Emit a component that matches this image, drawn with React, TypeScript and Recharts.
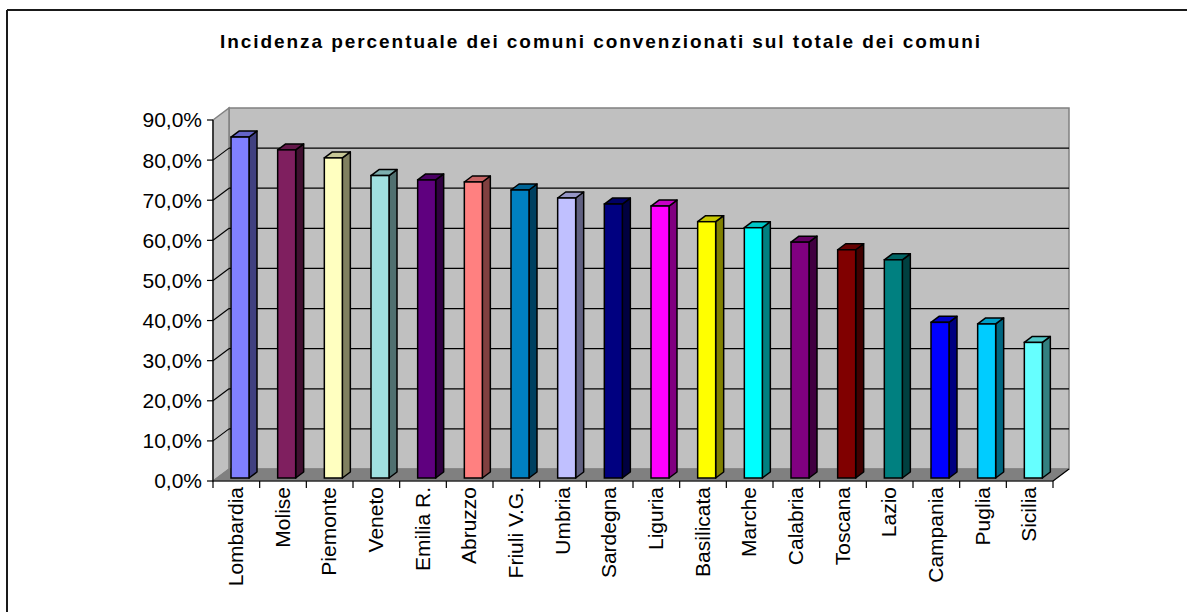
import React from 'react';
import { BarChart, Bar, XAxis, YAxis, Customized } from 'recharts';

const TITLE = 'Incidenza percentuale dei comuni convenzionati sul totale dei comuni';
const REGIONS = ['Lombardia', 'Molise', 'Piemonte', 'Veneto', 'Emilia R.', 'Abruzzo', 'Friuli V.G.', 'Umbria', 'Sardegna', 'Liguria', 'Basilicata', 'Marche', 'Calabria', 'Toscana', 'Lazio', 'Campania', 'Puglia', 'Sicilia'];
const VALUES = [85.0, 81.8, 79.8, 75.4, 74.3, 73.8, 71.8, 69.8, 68.3, 67.8, 63.9, 62.4, 58.8, 56.9, 54.4, 38.8, 38.4, 33.8];
const COLORS = ['#8080FF', '#7F1F5F', '#FFFFC0', '#A0E0E0', '#5F007F', '#FF8080', '#0080C0', '#C0C0FF', '#000080', '#FF00FF', '#FFFF00', '#00FFFF', '#800080', '#800000', '#008080', '#0000FF', '#00CCFF', '#66FFFF'];
const Y_TICKS = [0, 10, 20, 30, 40, 50, 60, 70, 80, 90];
const Y_MAX = 90;

const data = REGIONS.map((name, i) => ({ name, v: VALUES[i] }));

const W = 1187;
const H = 612;
const PLOT_L = 213;
const PLOT_R = 1053;
const PLOT_T = 120;
const PLOT_B = 481;
const DX = 16;
const DY = 12;
const YAXIS_W = 80;
const XAXIS_H = 120;
const FONT = '"Liberation Sans", Arial, sans-serif';

const shade = (hex: string, f: number) => {
  const n = parseInt(hex.slice(1), 16);
  const r = Math.round(((n >> 16) & 255) * f);
  const g = Math.round(((n >> 8) & 255) * f);
  const b = Math.round((n & 255) * f);
  return `rgb(${r},${g},${b})`;
};

const tickY = (v: number) => PLOT_B - (v / Y_MAX) * (PLOT_B - PLOT_T);

const Decor = () => (
  <g>
    <line x1={7} y1={10} x2={W} y2={10} stroke="#1a1a1a" strokeWidth={2} />
    <line x1={7} y1={10} x2={7} y2={H} stroke="#1a1a1a" strokeWidth={2} />
    <text x={600} y={48} textAnchor="middle" fontFamily={FONT} fontWeight="bold" fontSize={19} fill="#000" textLength={760} lengthAdjust="spacing">{TITLE}</text>
    {/* back wall */}
    <polygon points={`${PLOT_L + DX},${PLOT_T - DY} ${PLOT_R + DX},${PLOT_T - DY} ${PLOT_R + DX},${PLOT_B - DY} ${PLOT_L + DX},${PLOT_B - DY}`} fill="#C0C0C0" stroke="#808080" strokeWidth={1.5} />
    {/* side wall */}
    <polygon points={`${PLOT_L},${PLOT_T} ${PLOT_L + DX},${PLOT_T - DY} ${PLOT_L + DX},${PLOT_B - DY} ${PLOT_L},${PLOT_B}`} fill="#C0C0C0" stroke="#808080" strokeWidth={1.5} />
    {/* floor */}
    <polygon points={`${PLOT_L},${PLOT_B} ${PLOT_L + DX},${PLOT_B - DY} ${PLOT_R + DX},${PLOT_B - DY} ${PLOT_R},${PLOT_B}`} fill="#808080" stroke="#808080" strokeWidth={1} />
    <line x1={PLOT_R} y1={PLOT_B} x2={PLOT_R + DX} y2={PLOT_B - DY} stroke="#000" strokeWidth={1.2} />
    {/* gridlines on side and back walls */}
    {Y_TICKS.filter((t) => t > 0 && t < Y_MAX).map((t) => {
      const y = tickY(t);
      return (
        <g key={t}>
          <line x1={PLOT_L} y1={y} x2={PLOT_L + DX} y2={y - DY} stroke="#000" strokeWidth={1.2} />
          <line x1={PLOT_L + DX} y1={y - DY} x2={PLOT_R + DX} y2={y - DY} stroke="#000" strokeWidth={1.2} />
        </g>
      );
    })}
  </g>
);

const BarShape = (props: any) => {
  const { x, y, width, height, index } = props;
  if (width == null || height == null) return null;
  const c = COLORS[index % COLORS.length];
  const fx = x + 4;
  const fy = y - 3;
  const d = 8;
  const e = 6;
  return (
    <g>
      <polygon points={`${fx + width},${fy} ${fx + width + d},${fy - e} ${fx + width + d},${fy + height - e} ${fx + width},${fy + height}`} fill={shade(c, 0.5)} stroke="#000" strokeWidth={1.5} strokeLinejoin="round" />
      <polygon points={`${fx},${fy} ${fx + d},${fy - e} ${fx + width + d},${fy - e} ${fx + width},${fy}`} fill={shade(c, 0.78)} stroke="#000" strokeWidth={1.5} strokeLinejoin="round" />
      <rect x={fx} y={fy} width={width} height={height} fill={c} stroke="#000" strokeWidth={1.5} />
    </g>
  );
};

const CatTick = (props: any) => {
  const { x, payload, index } = props;
  const half = (PLOT_R - PLOT_L) / REGIONS.length / 2;
  return (
    <g>
      <line x1={x - half} y1={PLOT_B} x2={x - half} y2={PLOT_B + 7} stroke="#000" strokeWidth={1.2} />
      {index === REGIONS.length - 1 && (
        <line x1={x + half} y1={PLOT_B} x2={x + half} y2={PLOT_B + 7} stroke="#000" strokeWidth={1.2} />
      )}
      <text transform={`translate(${x - 1},${PLOT_B + 6}) rotate(-90)`} textAnchor="end" dy="0.36em" fontFamily={FONT} fontSize={21} fill="#000">
        {payload.value}
      </text>
    </g>
  );
};

const fmt = (v: number) => `${v.toFixed(1).replace('.', ',')}%`;

export default function App() {
  return (
    <div style={{ position: 'absolute', left: 0, top: 0, width: W, height: H, overflow: 'hidden', background: '#fff' }}>
      <BarChart
        width={W}
        height={H}
        data={data}
        margin={{ top: PLOT_T, right: W - PLOT_R, bottom: H - PLOT_B - XAXIS_H, left: PLOT_L - YAXIS_W }}
      >
        <Customized component={Decor} />
        <XAxis
          dataKey="name"
          interval={0}
          height={XAXIS_H}
          tickLine={false}
          axisLine={{ stroke: '#000', strokeWidth: 1.2 }}
          tick={CatTick}
        />
        <YAxis
          width={YAXIS_W}
          domain={[0, Y_MAX]}
          ticks={Y_TICKS}
          interval={0}
          tickFormatter={fmt}
          tickSize={6}
          tickMargin={5}
          axisLine={{ stroke: '#000', strokeWidth: 1.2 }}
          tickLine={{ stroke: '#000', strokeWidth: 1.2 }}
          tick={{ fontFamily: FONT, fontSize: 21, fill: '#000' }}
        />
        <Bar dataKey="v" barSize={18} isAnimationActive={false} shape={BarShape} />
      </BarChart>
    </div>
  );
}
